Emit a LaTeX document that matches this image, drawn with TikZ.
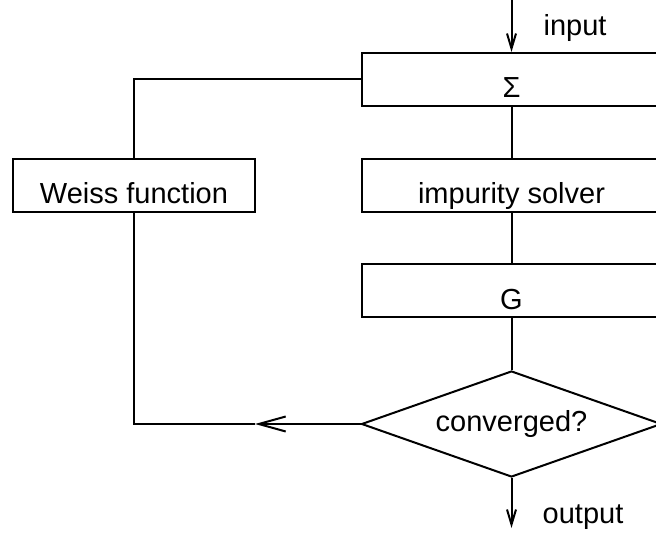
\documentclass[tikz,border=0pt]{standalone}
\usepackage{fontspec}
\setmainfont{Liberation Sans}
\usetikzlibrary{shapes.geometric,arrows.meta}
\begin{document}
\begin{tikzpicture}[x=1pt,y=-1pt,
  every node/.style={font=\fontsize{29}{34}\selectfont},
  flowline/.style={line width=2pt},
  stepbox/.style={draw,line width=2pt,rectangle,inner sep=0pt,minimum height=53pt,text height=36pt,text depth=0pt},
  decision/.style={draw,line width=2pt,diamond,aspect=2.83,inner sep=0pt,minimum width=300pt,minimum height=106pt},
  smallhead/.style={-{Straight Barb[length=15pt,width=9pt]}},
  bighead/.style={-{Straight Barb[length=27pt,width=15pt]}},
  lbl/.style={anchor=base}]
\useasboundingbox (0,0) rectangle (656,537);
\clip (0,0) rectangle (656,537);
\node[stepbox,minimum width=300pt] (sigma) at (511.5,79.5) {Σ};
\node[stepbox,minimum width=242pt] (weiss) at (134,185.5) {Weiss function};
\node[stepbox,minimum width=300pt] (imp) at (511.5,185.5) {impurity solver};
\node[stepbox,minimum width=300pt] (gbox) at (511.5,291) {G};
\node[decision] (conv) at (511.5,424) {converged?};
\coordinate (intop) at (511.5,-2);
\coordinate (outend) at (511.5,528);
\coordinate (mid) at (255,424);
\node[lbl] (inlbl) at (575,36) {input};
\node[lbl] (outlbl) at (583,523) {output};
\draw[flowline,smallhead] (intop) -- (sigma.north);
\draw[flowline] (sigma.west) -| (weiss.north);
\draw[flowline] (sigma.south) -- (imp.north);
\draw[flowline] (imp.south) -- (gbox.north);
\draw[flowline] (gbox.south) -- (conv.north);
\draw[flowline,bighead] (conv.west) -- (mid);
\draw[flowline] (mid) -| (weiss.south);
\draw[flowline,smallhead] (conv.south) -- (outend);
\end{tikzpicture}
\end{document}
